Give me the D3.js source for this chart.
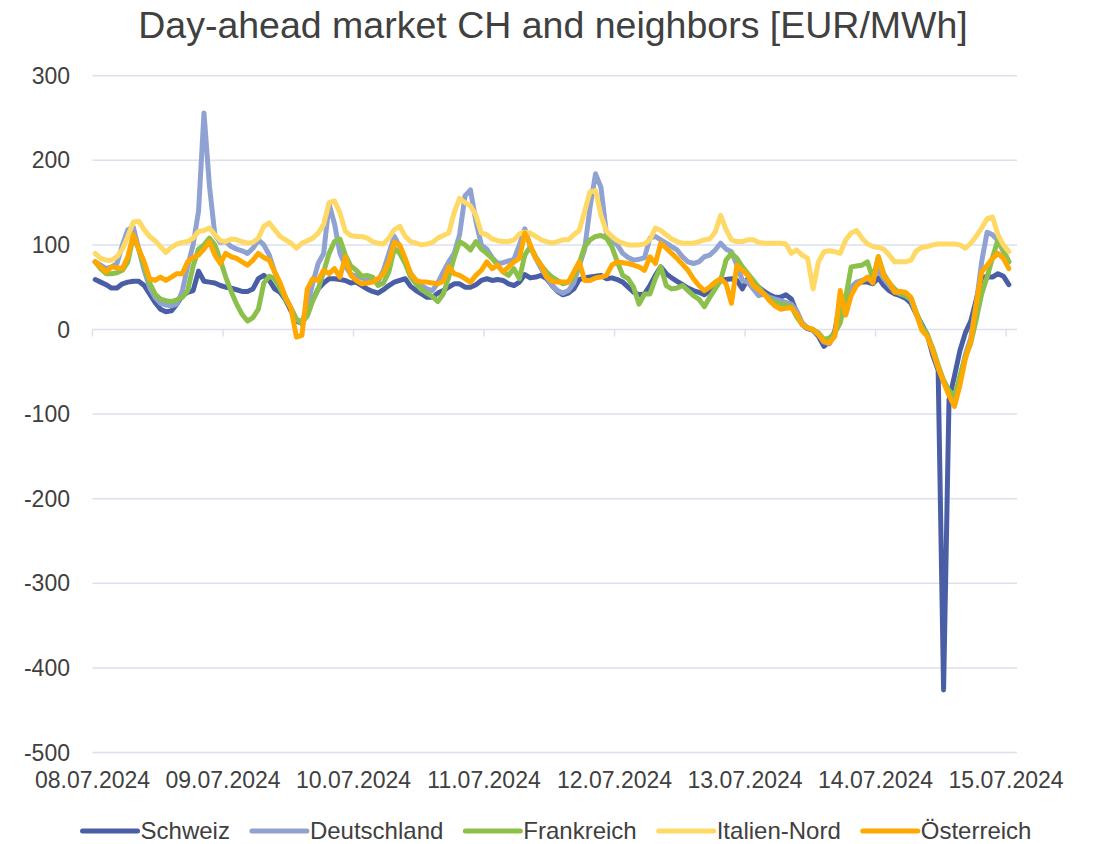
<!DOCTYPE html>
<html>
<head>
<meta charset="utf-8">
<script src="https://cdn.jsdelivr.net/npm/d3@7"></script>
<style>
  body { margin: 0; background: #fff; }
  svg { font-family: "Liberation Sans", Arial, sans-serif; }
</style>
</head>
<body>
<div id="chart"></div>
<script>
// Hourly day-ahead prices, 08.07.2024 00:00 .. 15.07.2024 00:00 (169 hours)
const dayLabels = ['08.07.2024', '09.07.2024', '10.07.2024', '11.07.2024',
  '12.07.2024', '13.07.2024', '14.07.2024', '15.07.2024'];
const yTicks = [-500, -400, -300, -200, -100, 0, 100, 200, 300];
const seriesNames = ['Schweiz', 'Deutschland', 'Frankreich', 'Italien-Nord', 'Österreich'];

const schweiz = [
  59, 56, 53, 49, 49, 54, 56, 57, 57, 52, 42, 32, 24, 21, 22, 30, 40, 44, 46, 69, 57, 56, 55, 52,
  50, 49, 47, 45, 45, 48, 60, 64, 58, 48, 44, 35, 22, 10, 7, 18, 35, 48, 55, 60, 60, 59, 58, 55,
  56, 52, 48, 45, 43, 47, 52, 56, 58, 60, 51, 46, 42, 38, 38, 43, 46, 50, 54, 54, 50, 50, 53, 58,
  60, 58, 59, 58, 54, 52, 56, 65, 61, 62, 64, 60, 52, 45, 41, 43, 48, 59, 61, 62, 63, 64, 60, 61,
  59, 56, 50, 44, 41, 42, 52, 64, 74, 66, 61, 57, 53, 49, 46, 44, 41, 46, 52, 58, 59, 60, 58, 48,
  60, 55, 50, 45, 41, 38, 38, 41, 36, 20, 6, 1, -1, -8, -20, -14, -2, 33, 28, 46, 54, 56, 56, 54,
  61, 52, 46, 42, 40, 37, 31, 18, 6, -6, -30, -48, -426, -83, -55, -25, -4, 10, 35, 62, 62, 62, 66, 63, 53
];
const deutschland = [
  80, 76, 72, 74, 78, 100, 118, 121, 95, 70, 50, 38, 31, 29, 28, 30, 45, 75, 100, 140, 256, 170, 112, 103,
  104, 98, 95, 93, 90, 96, 106, 100, 88, 68, 52, 38, 25, 12, 7, 28, 55, 78, 90, 148, 125, 90, 75, 65,
  63, 61, 59, 57, 57, 70, 90, 110, 98, 80, 66, 58, 52, 48, 46, 55, 68, 80, 90, 112, 158, 165, 128, 100,
  95, 85, 78, 79, 81, 83, 100, 119, 98, 84, 72, 62, 52, 46, 43, 46, 55, 75, 95, 145, 184, 168, 113, 106,
  100, 90, 85, 82, 83, 85, 108, 110, 106, 102, 98, 94, 86, 80, 78, 80, 86, 88, 94, 102, 95, 92, 76, 58,
  56, 48, 40, 42, 38, 36, 34, 32, 30, 22, 8, 2, -1, -6, -15, -17, -5, 20, 40, 50, 56, 58, 60, 62,
  70, 60, 52, 45, 42, 40, 35, 18, 3, -6, -25, -45, -62, -76, -82, -58, -30, -10, 30, 80, 115, 112, 105, 92, 80
];
const frankreich = [
  80, 72, 66, 66, 67, 70, 80, 110, 95, 75, 55, 42, 36, 34, 33, 35, 38, 46, 75, 95, 100, 108, 100, 82,
  62, 45, 30, 18, 10, 14, 24, 55, 63, 60, 48, 36, 25, 12, 9, 16, 34, 48, 68, 90, 104, 107, 88, 75,
  70, 63, 64, 62, 52, 55, 68, 96, 90, 78, 62, 54, 47, 43, 39, 33, 42, 62, 85, 104, 100, 94, 104, 95,
  90, 84, 76, 68, 64, 72, 60, 88, 98, 86, 76, 68, 62, 58, 54, 56, 62, 78, 98, 106, 110, 111, 108, 98,
  80, 64, 60, 50, 30, 42, 42, 60, 74, 52, 48, 49, 52, 46, 40, 36, 27, 38, 48, 58, 82, 90, 84, 74,
  66, 58, 50, 42, 36, 32, 30, 29, 27, 15, 6, 2, 0, -4, -12, -10, -4, 8, 38, 74, 75, 76, 80, 60,
  86, 66, 55, 48, 43, 40, 37, 20, 4, -6, -22, -42, -60, -72, -80, -55, -32, -16, 12, 42, 62, 85, 106, 94, 80
];
const italienNord = [
  90, 84, 82, 82, 86, 95, 110, 127, 128, 118, 110, 105, 98, 91, 97, 101, 103, 104, 108, 116, 117, 120, 112, 105,
  104, 107, 106, 104, 102, 103, 108, 122, 126, 118, 110, 106, 102, 96, 102, 105, 108, 114, 124, 150, 152, 138, 116, 111,
  110, 110, 108, 104, 102, 101, 108, 118, 122, 110, 104, 102, 100, 101, 103, 108, 111, 114, 138, 155, 150, 146, 135, 114,
  112, 107, 105, 104, 104, 106, 113, 115, 114, 110, 106, 104, 102, 104, 106, 106, 112, 117, 140, 163, 164, 135, 116, 110,
  105, 102, 100, 100, 100, 101, 106, 120, 117, 112, 107, 104, 102, 102, 102, 104, 106, 107, 115, 135, 118, 106, 104, 104,
  106, 106, 103, 102, 102, 102, 102, 101, 90, 94, 88, 84, 48, 80, 92, 93, 92, 90, 106, 114, 117, 108, 101, 98,
  97, 95, 88, 80, 80, 80, 82, 93, 97, 98, 100, 101, 101, 101, 101, 100, 96, 102, 110, 120, 131, 133, 112, 100, 92
];
const oesterreich = [
  80, 74, 68, 74, 73, 72, 86, 112, 95, 80, 60, 58, 62, 58, 62, 66, 66, 80, 85, 88, 95, 104, 88, 78,
  90, 86, 84, 80, 76, 82, 90, 85, 82, 68, 55, 38, 25, -9, -7, 48, 60, 58, 70, 66, 72, 62, 86, 64,
  58, 54, 55, 56, 60, 66, 80, 103, 100, 84, 66, 58, 56, 56, 55, 54, 57, 74, 66, 64, 60, 56, 64, 70,
  80, 72, 76, 68, 74, 80, 84, 114, 100, 84, 76, 62, 57, 56, 56, 56, 68, 80, 58, 58, 61, 62, 64, 76,
  80, 79, 78, 76, 74, 70, 86, 78, 102, 96, 90, 84, 77, 70, 60, 52, 46, 50, 56, 60, 54, 31, 76, 70,
  64, 52, 47, 42, 34, 28, 24, 25, 26, 18, 6, 2, 0, -6, -14, -16, -8, 46, 17, 40, 52, 57, 62, 55,
  86, 63, 56, 44, 45, 44, 38, 18, -1, -8, -25, -45, -62, -78, -91, -66, -35, -14, 30, 68, 76, 84, 90, 84, 72
];

const seriesValues = [schweiz, deutschland, frankreich, italienNord, oesterreich];
const seriesColors = ['#4a5ea6', '#8fa2d2', '#8cc04c', '#ffd966', '#ffa800'];

const width = 1094;
const height = 844;
const textColor = '#404040';
const gridColor = '#dde0ee';

const svg = d3.select('#chart')
  .append('svg')
  .attr('width', width)
  .attr('height', height);

// category axis: 170 hourly slots, labels every 24 hours
const x = d3.scaleLinear().domain([0, 170]).range([92.5, 1017]);
const y = d3.scaleLinear().domain([-500, 300]).range([752.5, 75.7]);

// title
svg.append('text')
  .attr('x', 553)
  .attr('y', 38)
  .attr('text-anchor', 'middle')
  .style('font-size', '37.5px')
  .style('fill', textColor)
  .text('Day-ahead market CH and neighbors [EUR/MWh]');

// horizontal gridlines
svg.append('g')
  .selectAll('line')
  .data(yTicks)
  .enter()
  .append('line')
  .attr('x1', x(0))
  .attr('x2', x(170))
  .attr('y1', (d) => y(d))
  .attr('y2', (d) => y(d))
  .style('stroke', gridColor)
  .style('stroke-width', 1.5);

// y labels
svg.append('g')
  .selectAll('text')
  .data(yTicks)
  .enter()
  .append('text')
  .attr('x', 70)
  .attr('y', (d) => y(d))
  .attr('dy', '0.35em')
  .attr('text-anchor', 'end')
  .style('font-size', '23px')
  .style('fill', textColor)
  .text((d) => d);

// tick marks below the zero line, one per day
svg.append('g')
  .selectAll('line')
  .data(dayLabels)
  .enter()
  .append('line')
  .attr('x1', (d, i) => x(i * 24))
  .attr('x2', (d, i) => x(i * 24))
  .attr('y1', y(0))
  .attr('y2', y(0) + 7)
  .style('stroke', gridColor)
  .style('stroke-width', 1.5);

// day labels at the bottom
svg.append('g')
  .selectAll('text')
  .data(dayLabels)
  .enter()
  .append('text')
  .attr('x', (d, i) => x(i * 24))
  .attr('y', 780)
  .attr('dy', '0.35em')
  .attr('text-anchor', 'middle')
  .style('font-size', '23px')
  .style('fill', textColor)
  .text((d) => d);

// series lines, points centred in their hourly slot
const line = d3.line()
  .x((d, i) => x(i + 0.5))
  .y((d) => y(d));

svg.append('g')
  .selectAll('path')
  .data(seriesValues)
  .enter()
  .append('path')
  .attr('d', line)
  .style('fill', 'none')
  .style('stroke', (d, i) => seriesColors[i])
  .style('stroke-width', 5)
  .style('stroke-linejoin', 'round')
  .style('stroke-linecap', 'round');

// legend, centred under the chart
const legend = svg.append('g');
const items = legend.selectAll('g')
  .data(seriesNames)
  .enter()
  .append('g');

items.append('line')
  .attr('x1', 0)
  .attr('x2', 55)
  .attr('y1', 0)
  .attr('y2', 0)
  .style('stroke', (d, i) => seriesColors[i])
  .style('stroke-width', 5)
  .style('stroke-linecap', 'round');

items.append('text')
  .attr('x', 58)
  .attr('dy', '0.35em')
  .style('font-size', '24px')
  .style('fill', textColor)
  .text((d) => d);

let offset = 0;
const itemGap = 22;
items.each(function () {
  const g = d3.select(this);
  g.attr('transform', `translate(${offset},0)`);
  offset += 58 + g.select('text').node().getComputedTextLength() + itemGap;
});
const legendWidth = offset - itemGap;
legend.attr('transform', `translate(${557 - legendWidth / 2},831)`);
</script>
</body>
</html>
